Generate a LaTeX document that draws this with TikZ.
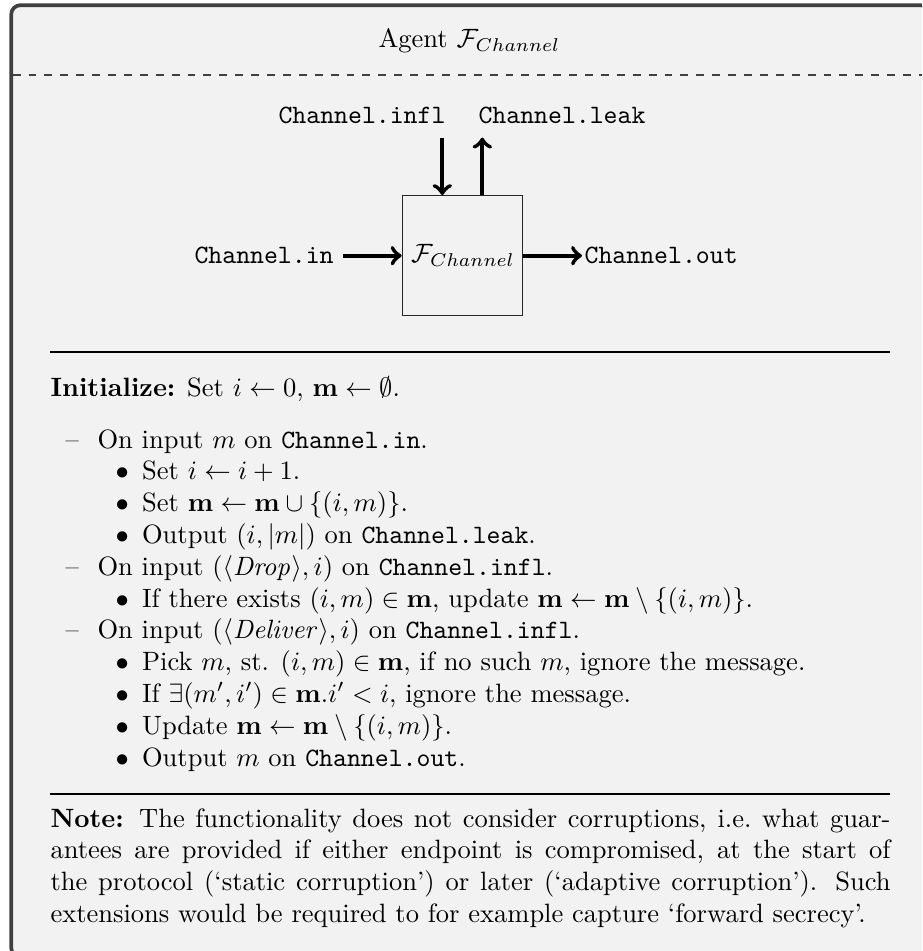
\documentclass[tikz,border=0pt]{standalone}
\newcommand\itemdash{\makebox[0pt][r]{\textendash\hspace{7pt}}}
\newcommand\itembullet{\makebox[0pt][r]{$\bullet$\hspace{0.5em}}}
\newcommand\fullline[1]{\makebox[316.98pt][s]{#1}}
\begin{document}
\begin{tikzpicture}[x=0.37736pt,y=-0.37736pt,
  frame/.style={draw=black!75, fill=black!5, line width=1.4pt, rounded corners=3.5pt},
  seg/.style={draw=black!75, line width=0.4pt, dash pattern=on 3pt off 3pt},
  rulel/.style={draw=black, line width=0.4pt},
  port/.style={font=\ttfamily},
  flow/.style={->, line width=1.6pt},
  fbox/.style={draw=black!85, line width=0.5pt, minimum size=45.28pt, inner sep=0pt},
  txt/.style={anchor=base west, inner sep=0pt},
]
\useasboundingbox (0,0) rectangle (922,951);
\fill[white] (0,0) rectangle (922,951);
\begin{scope}
  \clip (0,0) rectangle (922,951);
  \path[frame] (11.2,5.2) rectangle (929.6,957);
\end{scope}
\draw[seg] (12.6,75) -- (922,75);

% title
\node[anchor=base] (title) at (469.5,48) {Agent $\mathcal{F}_{Channel}$};

% functionality box with its ports
\node[fbox] (box) at (462.3,255.7) {};
\node[anchor=west] (flabel) at (box.west) {$\mathcal{F}_{Channel}$};
\node[port, anchor=base] (infl) at (362,124) {Channel.infl};
\node[port, anchor=base] (leak) at (562,124) {Channel.leak};
\node[port, anchor=east] (in) at (343,255.7) {Channel.in};
\node[port, anchor=west, inner xsep=0.8pt] (out) at (582,255.7) {Channel.out};
\coordinate (pin) at ([xshift=-7.55pt]box.north);
\coordinate (pout) at ([xshift=7.55pt]box.north);
\draw[flow, shorten <=1.5pt] (pin |- infl.south) -- (pin);
\draw[flow, shorten >=1.5pt] (pout) -- (pout |- leak.south);
\draw[flow] (in.east) -- (box.west);
\draw[flow] (box.east) -- (out.west);

% separating rules
\draw[rulel] (50,352) -- (890,352);
\draw[rulel] (50,794) -- (890,794);

% behaviour
\node[txt] (init) at (50,396) {\textbf{Initialize:} Set $i \leftarrow 0$, $\mathbf{m} \leftarrow \emptyset$.};
\node[txt] (a1) at (97,448) {\itemdash On input $m$ on \texttt{Channel.in}.};
\node[txt] (a1b1) at (141.6,479.8) {\itembullet Set $i \leftarrow i+1$.};
\node[txt] (a1b2) at (141.6,511.6) {\itembullet Set $\mathbf{m} \leftarrow \mathbf{m} \cup \{(i,m)\}$.};
\node[txt] (a1b3) at (141.6,543.4) {\itembullet Output $(i,|m|)$ on \texttt{Channel.leak}.};
\node[txt] (a2) at (97,575.2) {\itemdash On input $(\langle \mathit{Drop}\rangle, i)$ on \texttt{Channel.infl}.};
\node[txt] (a2b1) at (141.6,607) {\itembullet If there exists $(i,m) \in \mathbf{m}$, update $\mathbf{m} \leftarrow \mathbf{m} \setminus \{(i,m)\}$.};
\node[txt] (a3) at (97,638.8) {\itemdash On input $(\langle \mathit{Deliver}\rangle, i)$ on \texttt{Channel.infl}.};
\node[txt] (a3b1) at (141.6,670.6) {\itembullet Pick $m$, st. $(i,m) \in \mathbf{m}$, if no such $m$, ignore the message.};
\node[txt] (a3b2) at (141.6,702.4) {\itembullet If $\exists (m',i') \in \mathbf{m}.i' < i$, ignore the message.};
\node[txt] (a3b3) at (141.6,734.2) {\itembullet Update $\mathbf{m} \leftarrow \mathbf{m} \setminus \{(i,m)\}$.};
\node[txt] (a3b4) at (141.6,766) {\itembullet Output $m$ on \texttt{Channel.out}.};

% note
\node[txt] (n1) at (50,827) {\fullline{\textbf{Note:} The functionality does not consider corruptions, i.e.\ what guar-}};
\node[txt] (n2) at (50,858.8) {\fullline{antees are provided if either endpoint is compromised, at the start of}};
\node[txt] (n3) at (50,890.6) {\fullline{the protocol (`static corruption') or later (`adaptive corruption'). Such}};
\node[txt] (n4) at (50,922.4) {extensions would be required to for example capture `forward secrecy'.};
\end{tikzpicture}
\end{document}
